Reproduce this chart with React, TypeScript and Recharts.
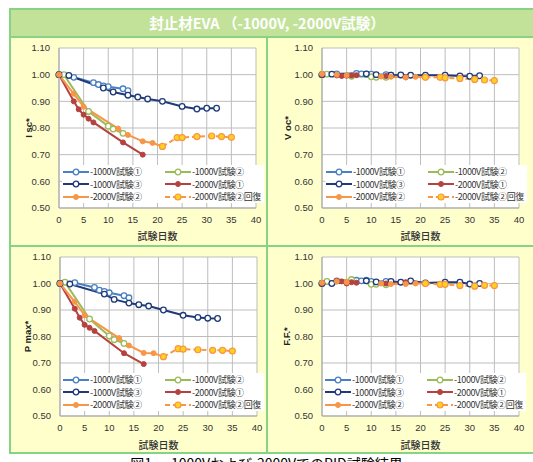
import { LineChart, Line, XAxis, YAxis, CartesianGrid, Label } from "recharts";

// axis ticks
const dayTicks = [0, 5, 10, 15, 20, 25, 30, 35, 40];
const valueTicks = [0.5, 0.6, 0.7, 0.8, 0.9, 1.0, 1.1];

// legend names (same order as the series below)
const seriesNames = [
  "-1000V試験①",
  "-1000V試験②",
  "-1000V試験③",
  "-2000V試験①",
  "-2000V試験②",
  "-2000V試験②回復",
];

// test days per series
const days1000a = [0, 3, 7, 8, 9, 10, 13, 14];
const days1000b = [0, 1, 6, 10, 11, 13];
const days1000c = [0, 2, 9, 11, 14, 16, 18, 21, 25, 28, 30, 32];
const days2000a = [0, 3, 4, 5, 6, 7, 13, 17];
const days2000b = [0, 3, 5, 12, 14, 17, 19, 21];
const daysRecovery = [21, 24, 25, 28, 31, 33, 35];

// I sc*
const isc1000a = [1.0, 0.99, 0.97, 0.963, 0.958, 0.955, 0.947, 0.94];
const isc1000b = [1.0, 1.0, 0.862, 0.807, 0.796, 0.78];
const isc1000c = [1.0, 0.997, 0.95, 0.935, 0.923, 0.916, 0.909, 0.9, 0.881, 0.871, 0.874, 0.874];
const isc2000a = [1.0, 0.9, 0.87, 0.85, 0.835, 0.821, 0.746, 0.7];
const isc2000b = [1.0, 0.928, 0.88, 0.798, 0.774, 0.75, 0.744, 0.731];
const iscRecovery = [0.731, 0.764, 0.764, 0.768, 0.77, 0.768, 0.765];

// V oc*
const voc1000a = [1.0, 1.003, 1.005, 1.003, 1.002, 1.002, 1.0, 0.998];
const voc1000b = [1.0, 1.002, 0.994, 0.992, 0.99, 0.99];
const voc1000c = [1.0, 1.002, 1.003, 1.0, 0.998, 0.999, 0.998, 0.998, 0.998, 0.995, 0.994, 0.996];
const voc2000a = [1.0, 0.997, 0.995, 0.996, 0.997, 0.998, 0.995, 0.99];
const voc2000b = [1.003, 1.0, 0.998, 0.993, 0.992, 0.99, 0.992, 0.99];
const vocRecovery = [0.99, 0.99, 0.988, 0.986, 0.982, 0.98, 0.978];

// P max*
const pmax1000a = [1.0, 1.003, 0.985, 0.975, 0.97, 0.965, 0.954, 0.946];
const pmax1000b = [1.0, 1.005, 0.866, 0.802, 0.788, 0.774];
const pmax1000c = [1.0, 0.998, 0.96, 0.94, 0.926, 0.92, 0.915, 0.9, 0.88, 0.872, 0.869, 0.868];
const pmax2000a = [1.0, 0.905, 0.871, 0.844, 0.833, 0.821, 0.737, 0.696];
const pmax2000b = [1.0, 0.931, 0.88, 0.794, 0.766, 0.738, 0.737, 0.724];
const pmaxRecovery = [0.724, 0.754, 0.752, 0.75, 0.748, 0.748, 0.745];

// F.F.*
const ff1000a = [1.0, 1.01, 1.012, 1.01, 1.012, 1.008, 1.008, 1.005];
const ff1000b = [1.0, 1.008, 1.015, 0.997, 0.997, 0.995];
const ff1000c = [1.0, 1.0, 1.01, 1.006, 1.008, 1.005, 1.01, 1.002, 1.005, 1.005, 0.998, 1.0];
const ff2000a = [1.0, 1.01, 1.008, 1.0, 1.005, 1.003, 1.0, 1.005];
const ff2000b = [1.003, 1.008, 1.005, 1.0, 0.998, 0.998, 1.0, 1.0];
const ffRecovery = [1.0, 0.997, 0.997, 0.992, 0.99, 0.993, 0.992];

const seriesDays = [days1000a, days1000b, days1000c, days2000a, days2000b, daysRecovery];

type Marker = "open" | "filled" | "recovery";
const seriesStyles: { color: string; marker: Marker; dash?: string }[] = [
  { color: "#4a7fc1", marker: "open" },
  { color: "#9bbb59", marker: "open" },
  { color: "#1f3a7a", marker: "open" },
  { color: "#b5423f", marker: "filled" },
  { color: "#f79646", marker: "filled" },
  { color: "#f79646", marker: "recovery", dash: "5 3" },
];

const FONT = "'Liberation Sans', Arial, 'Noto Sans CJK JP', sans-serif";
const JP = "'Noto Sans CJK JP', 'Liberation Sans', sans-serif";
const GREEN = "#86d386";

function dotFor(marker: Marker, color: string) {
  if (marker === "open") return { r: 2.8, fill: "#fff", stroke: color, strokeWidth: 1.3, strokeDasharray: "0" };
  if (marker === "filled") return { r: 2.5, fill: color, stroke: color, strokeWidth: 1, strokeDasharray: "0" };
  return { r: 3, fill: "#ffd21f", stroke: "#f79646", strokeWidth: 1.2, strokeDasharray: "0" };
}

function LegendBox({ left, top }: { left: number; top: number }) {
  return (
    <div
      style={{
        position: "absolute",
        left,
        top,
        width: 202,
        height: 38,
        background: "#fff",
        fontFamily: JP,
        fontSize: 9,
        color: "#333",
      }}
    >
      {seriesNames.map((name, i) => {
        const s = seriesStyles[i];
        const d = dotFor(s.marker, s.color);
        return (
          <div
            key={name}
            style={{
              position: "absolute",
              left: i % 2 === 0 ? 1 : 103,
              top: 1 + Math.floor(i / 2) * 12.5,
              height: 11,
              display: "flex",
              alignItems: "center",
              whiteSpace: "nowrap",
            }}
          >
            <svg width={26} height={10} style={{ marginRight: 1 }}>
              <line x1={0} y1={5} x2={26} y2={5} stroke={s.color} strokeWidth={2} strokeDasharray={s.dash} />
              <circle cx={13} cy={5} r={d.r} fill={d.fill} stroke={d.stroke} strokeWidth={d.strokeWidth} />
            </svg>
            <span style={{ letterSpacing: -0.4 }}>{name}</span>
          </div>
        );
      })}
    </div>
  );
}

type PanelProps = {
  left: number;
  top: number;
  width: number;
  height: number;
  yAxisWidth: number;
  marginRight: number;
  xAxisHeight: number;
  yTitle: string;
  yTitleX: number;
  values: number[][];
  legendLeft: number;
  legendTop: number;
};

function Panel(p: PanelProps) {
  return (
    <div style={{ position: "absolute", left: p.left, top: p.top, width: p.width, height: p.height }}>
      <LineChart
        width={p.width}
        height={p.height}
        margin={{ top: 11, right: p.marginRight, bottom: 0, left: 0 }}
      >
        <CartesianGrid stroke="#bdbdbd" strokeWidth={1} fill="#ffffff" fillOpacity={1} />
        <XAxis
          type="number"
          dataKey="day"
          domain={[0, 40]}
          ticks={dayTicks}
          allowDuplicatedCategory={false}
          height={p.xAxisHeight}
          tickLine={false}
          tickSize={0}
          tickMargin={8}
          axisLine={{ stroke: "#a6a6a6" }}
          tick={{ fontSize: 9.5, fill: "#333", fontFamily: FONT }}
          interval={0}
        >
          <Label
            value="試験日数"
            position="insideBottom"
            offset={6}
            style={{ fontSize: 10, fill: "#333", fontFamily: JP, fontWeight: 500 }}
          />
        </XAxis>
        <YAxis
          type="number"
          domain={[0.5, 1.1]}
          ticks={valueTicks}
          width={p.yAxisWidth}
          tickLine={false}
          tickSize={0}
          tickMargin={9}
          axisLine={{ stroke: "#a6a6a6" }}
          tick={{ fontSize: 9.5, fill: "#333", fontFamily: FONT }}
          tickFormatter={(v: number) => v.toFixed(2)}
          interval={0}
        >
          <Label
            content={(props: any) => {
              const vb = props.viewBox;
              const cy = vb.y + vb.height / 2;
              const cx = p.yTitleX;
              return (
                <text
                  x={cx}
                  y={cy}
                  transform={`rotate(-90 ${cx} ${cy})`}
                  textAnchor="middle"
                  dominantBaseline="central"
                  fontSize={9.5}
                  fontWeight="bold"
                  fill="#222"
                  fontFamily={FONT}
                >
                  {p.yTitle}
                </text>
              );
            }}
          />
        </YAxis>
        {seriesNames.map((name, i) => {
          const s = seriesStyles[i];
          const data = seriesDays[i].map((day, k) => ({ day, value: p.values[i][k] }));
          return (
            <Line
              key={name}
              name={name}
              data={data}
              dataKey="value"
              type="linear"
              stroke={s.color}
              strokeWidth={2}
              strokeDasharray={s.dash}
              dot={dotFor(s.marker, s.color)}
              activeDot={false}
              isAnimationActive={false}
            />
          );
        })}
      </LineChart>
      <LegendBox left={p.legendLeft} top={p.legendTop} />
    </div>
  );
}

export default function App() {
  return (
    <div
      style={{
        position: "absolute",
        left: 0,
        top: 0,
        width: 533,
        height: 462,
        overflow: "hidden",
        background: "#fff",
        fontFamily: FONT,
      }}
    >
      {/* frame */}
      <div
        style={{
          position: "absolute",
          left: 9,
          top: 8,
          width: 540,
          height: 446,
          background: "#ffffcc",
          border: `2px solid ${GREEN}`,
          boxSizing: "border-box",
        }}
      />
      {/* title bar */}
      <div
        style={{
          position: "absolute",
          left: 9,
          top: 8,
          width: 540,
          height: 30,
          background: "#c2e29a",
          border: `2px solid ${GREEN}`,
          boxSizing: "border-box",
        }}
      />
      <div
        style={{
          position: "absolute",
          left: 9,
          top: 8,
          width: 516,
          height: 30,
          lineHeight: "30px",
          textAlign: "center",
          color: "#fff",
          fontFamily: JP,
          fontWeight: "bold",
          fontSize: 14.5,
        }}
      >
        封止材EVA （-1000V, -2000V試験）
      </div>
      {/* dividers */}
      <div style={{ position: "absolute", left: 266, top: 37, width: 2, height: 417, background: GREEN }} />
      <div style={{ position: "absolute", left: 9, top: 245, width: 530, height: 2, background: GREEN }} />

      <Panel
        left={9}
        top={37}
        width={259}
        height={209}
        yAxisWidth={50}
        marginRight={12}
        xAxisHeight={38}
        yTitle="I sc*"
        yTitleX={19}
        values={[isc1000a, isc1000b, isc1000c, isc2000a, isc2000b, iscRecovery]}
        legendLeft={53}
        legendTop={128}
      />
      <Panel
        left={268}
        top={37}
        width={265}
        height={209}
        yAxisWidth={54}
        marginRight={14}
        xAxisHeight={38}
        yTitle="V oc*"
        yTitleX={19}
        values={[voc1000a, voc1000b, voc1000c, voc2000a, voc2000b, vocRecovery]}
        legendLeft={57}
        legendTop={128}
      />
      <Panel
        left={9}
        top={246}
        width={259}
        height={209}
        yAxisWidth={51}
        marginRight={11}
        xAxisHeight={39}
        yTitle="P max*"
        yTitleX={18}
        values={[pmax1000a, pmax1000b, pmax1000c, pmax2000a, pmax2000b, pmaxRecovery]}
        legendLeft={53}
        legendTop={127}
      />
      <Panel
        left={268}
        top={246}
        width={265}
        height={209}
        yAxisWidth={54}
        marginRight={14}
        xAxisHeight={39}
        yTitle="F.F.*"
        yTitleX={18}
        values={[ff1000a, ff1000b, ff1000c, ff2000a, ff2000b, ffRecovery]}
        legendLeft={56}
        legendTop={127}
      />

      {/* caption (cut off by the bottom edge, as in the source) */}
      <div
        style={{
          position: "absolute",
          left: 0,
          top: 455,
          width: 533,
          textAlign: "center",
          fontFamily: JP,
          fontSize: 14,
          lineHeight: "16px",
          color: "#000",
        }}
      >
        図1　-1000Vおよび-2000VでのPID試験結果
      </div>
    </div>
  );
}
